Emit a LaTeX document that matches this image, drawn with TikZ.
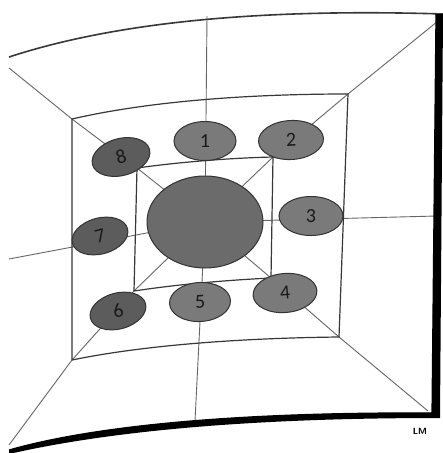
\documentclass[tikz,border=0pt]{standalone}
\usepackage{fontspec}
\setmainfont{Carlito}
\usetikzlibrary{shapes.geometric}
\definecolor{thinline}{gray}{0.40}
\definecolor{frameline}{gray}{0.22}
\definecolor{fillLight}{gray}{0.48}
\definecolor{fillDark}{gray}{0.36}
\definecolor{fillCore}{gray}{0.42}
\definecolor{edgeCol}{gray}{0.20}
\begin{document}
\begin{tikzpicture}[x=1pt,y=-1pt,
  thin line/.style={draw=thinline, line width=0.9pt},
  frame line/.style={draw=frameline, line width=1.2pt},
  seat/.style={ellipse, draw=edgeCol, line width=1pt, inner sep=0pt,
    minimum width=62pt, minimum height=39pt, fill=fillLight,
    font=\fontsize{20}{20}\selectfont, text=black!90},
  darkseat/.style={seat, fill=fillDark},
  core/.style={ellipse, draw=edgeCol, line width=1pt, fill=fillCore,
    minimum width=116pt, minimum height=92pt, inner sep=0pt}]
\useasboundingbox (0,0) rectangle (443,453);
\fill[white] (0,0) rectangle (443,453);
% outer frame points
\coordinate (OTL) at (9,57);
\coordinate (OTR) at (443,14);
\coordinate (ODL) at (9,68);
\coordinate (ODR) at (443,17);
\coordinate (OBL) at (9,450);
\coordinate (OBLd) at (9,445);
\coordinate (OBR) at (432,413);
\coordinate (OBRd) at (428,411);
\coordinate (OTM) at (207,16);
\coordinate (OBM) at (195,421);
\coordinate (OLM) at (9,259);
\coordinate (ORM) at (437,216);
% middle frame
\coordinate (MTL) at (72,119);
\coordinate (MTR) at (348,94);
\coordinate (MBR) at (339,337);
\coordinate (MBL) at (72,360);
% inner frame
\coordinate (ITL) at (137,168);
\coordinate (ITR) at (273,157);
\coordinate (IBR) at (271,278);
\coordinate (IBL) at (134,291);
\coordinate (C) at (205,222);

% radial lines
\draw[thin line] (ODL) -- (MTL) -- (ITL) -- (C);
\draw[thin line] (ODR) -- (MTR) -- (ITR) -- (C);
\draw[thin line] (OBRd) -- (MBR) -- (IBR) -- (C);
\draw[thin line] (OBLd) -- (MBL) -- (IBL) -- (C);
\draw[thin line] (OTM) -- (C);
\draw[thin line] (OBM) -- (C);
\draw[thin line] (OLM) -- (C);
\draw[thin line] (ORM) -- (C);

% middle frame
\draw[frame line] (MTL) .. controls (150,101) and (250,94) .. (MTR)
  -- (MBR) .. controls (250,338) and (150,344) .. (MBL) -- cycle;
% inner frame
\draw[frame line] (ITL) .. controls (180,162) and (230,158) .. (ITR)
  -- (IBR) .. controls (230,280) and (180,284) .. (IBL) -- cycle;

% outer frame
\draw[draw=frameline, line width=1.6pt] (OTL) .. controls (110,24) and (250,8) .. (OTR);
\fill[black] (OBL) .. controls (100,424) and (250,412) .. (OBR)
  -- (436,14) -- (443,14) -- (440,418)
  .. controls (250,418) and (110,431) .. (9,454) -- cycle;
\draw[black, line width=1.2pt] (OBL) .. controls (100,424) and (250,412) .. (OBR) -- (436,14);

% core and seats
\node[core] (core) at (C) {};
\node[seat] (s1) at (205,141) {1};
\node[seat, minimum width=65pt, rotate=3] (s2) at (291,140) {2};
\node[seat, minimum width=64pt] (s3) at (311,216) {3};
\node[seat, minimum width=64pt, rotate=5] (s4) at (285,293) {4};
\node[seat, minimum width=61pt, rotate=3] (s5) at (200,302) {5};
\node[darkseat, minimum width=57pt, minimum height=36pt, rotate=15] (s6) at (118,311) {6};
\node[darkseat, minimum width=57pt, minimum height=36pt, rotate=15] (s7) at (100,236) {7};
\node[darkseat, minimum width=59pt, minimum height=37pt, rotate=15] (s8) at (121,157) {8};

\node[font=\sffamily\bfseries\fontsize{9}{9}\selectfont, inner sep=0pt] (lm) at (420,431) {LM};
\end{tikzpicture}
\end{document}
